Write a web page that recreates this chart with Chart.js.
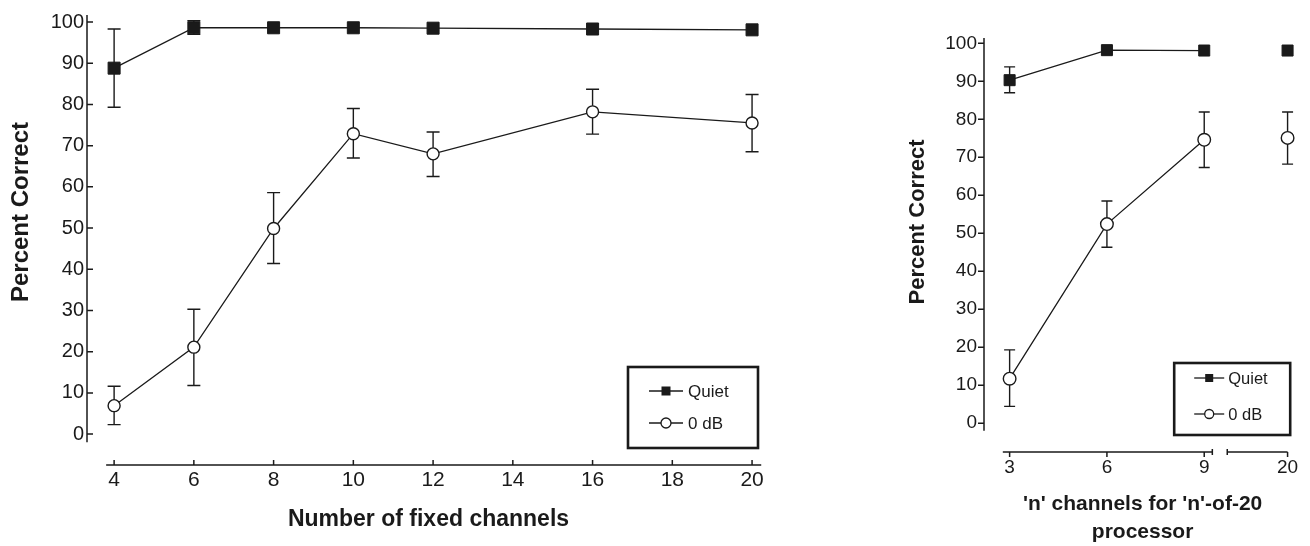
<!DOCTYPE html>
<html>
<head>
<meta charset="utf-8">
<script src="https://cdn.jsdelivr.net/npm/chart.js@4.4.0/dist/chart.umd.min.js"></script>
<style>
  body { margin: 0; background: #fff; }
  #wrapLeft { position: absolute; left: 0; top: 0; width: 780px; height: 546px; }
  #wrapRight { position: absolute; left: 880px; top: 0; width: 430px; height: 546px; }
</style>
</head>
<body>
<div id="wrapLeft"><canvas id="fixedChart"></canvas></div>
<div id="wrapRight"><canvas id="nofmChart"></canvas></div>
<script>
// left panel - fixed channels
const fixedChannels = [4, 6, 8, 10, 12, 16, 20];
const fixedQuiet = [88.8, 98.6, 98.6, 98.6, 98.5, 98.3, 98.1];
const fixedQuietLow = [79.3, 97.0, null, null, null, null, null];
const fixedQuietHigh = [98.3, 100.3, null, null, null, null, null];
const fixedNoise = [6.9, 21.1, 49.9, 72.9, 68.0, 78.2, 75.5];
const fixedNoiseLow = [2.3, 11.8, 41.4, 67.0, 62.5, 72.8, 68.5];
const fixedNoiseHigh = [11.6, 30.3, 58.6, 79.0, 73.3, 83.7, 82.4];
const fixedTicks = [4, 6, 8, 10, 12, 14, 16, 18, 20];

// right panel - 'n'-of-20
const nChannels = [3, 6, 9, 20];
const nQuiet = [90.3, 98.2, 98.1, 98.1];
const nQuietLow = [87.0, null, null, null];
const nQuietHigh = [93.8, null, null, null];
const nNoise = [11.7, 52.4, 74.6, 75.1];
const nNoiseLow = [4.4, 46.3, 67.3, 68.2];
const nNoiseHigh = [19.3, 58.5, 81.9, 81.9];
const nTicks = [3, 6, 9, 20];

const percentTicks = [0, 10, 20, 30, 40, 50, 60, 70, 80, 90, 100];

const ink = '#1a1a1a';
const fontFam = "'Liberation Sans', Arial, Helvetica, sans-serif";

// broken axis on the right panel: 20 sits just after the break
const breakPos = n => (n <= 9 ? n : n - 8.43);

const paperAxes = {
  id: 'paperAxes',
  beforeDatasetsDraw(chart, args, opts) {
    const ctx = chart.ctx, ys = chart.scales.y;
    ctx.save();
    ctx.strokeStyle = ink;
    ctx.lineWidth = 1.4;
    chart.data.datasets.forEach((ds, i) => {
      if (!ds.errLow) return;
      chart.getDatasetMeta(i).data.forEach((pt, j) => {
        if (ds.errLow[j] == null) return;
        const yl = ys.getPixelForValue(ds.errLow[j]);
        const yh = ys.getPixelForValue(ds.errHigh[j]);
        const c = opts.cap / 2;
        ctx.beginPath();
        ctx.moveTo(pt.x, yl); ctx.lineTo(pt.x, yh);
        ctx.moveTo(pt.x - c, yl); ctx.lineTo(pt.x + c, yl);
        ctx.moveTo(pt.x - c, yh); ctx.lineTo(pt.x + c, yh);
        ctx.stroke();
      });
    });
    ctx.restore();
  },
  afterDatasetsDraw(chart, args, opts) {
    const ctx = chart.ctx, xs = chart.scales.x, ys = chart.scales.y;
    const ca = chart.chartArea;
    ctx.save();
    ctx.strokeStyle = ink;
    ctx.lineWidth = 1.5;
    // y axis
    const ax = ca.left;
    ctx.beginPath();
    ctx.moveTo(ax, ys.getPixelForValue(opts.ySpan[0]));
    ctx.lineTo(ax, ys.getPixelForValue(opts.ySpan[1]));
    percentTicks.forEach(v => {
      const y = ys.getPixelForValue(v);
      ctx.moveTo(ax, y); ctx.lineTo(ax + opts.yTickDir * 6, y);
    });
    // x axis segments
    const by = ca.bottom;
    opts.xSegments.forEach(s => {
      ctx.moveTo(xs.getPixelForValue(s[0]), by);
      ctx.lineTo(xs.getPixelForValue(s[1]), by);
    });
    opts.xMarks.forEach(m => {
      const x = xs.getPixelForValue(m[0]);
      ctx.moveTo(x, by - m[1]); ctx.lineTo(x, by + m[2]);
    });
    ctx.stroke();

    // y title
    ctx.fillStyle = ink;
    ctx.font = 'bold ' + opts.yTitle.size + 'px ' + fontFam;
    ctx.textAlign = 'center';
    ctx.textBaseline = 'middle';
    ctx.save();
    ctx.translate(opts.yTitle.x, opts.yTitle.y);
    ctx.rotate(-Math.PI / 2);
    ctx.fillText(opts.yTitle.text, 0, 0);
    ctx.restore();

    // boxed legend
    const lg = opts.legend;
    const bx = ca.right - lg.right - lg.w, bt = ca.bottom - lg.bottom - lg.h;
    ctx.lineWidth = 2.6;
    ctx.strokeRect(bx, bt, lg.w, lg.h);
    ctx.font = lg.size + 'px ' + fontFam;
    ctx.textAlign = 'left';
    chart.data.datasets.forEach((ds, i) => {
      const cy = bt + lg.rows[i];
      const x0 = bx + lg.lineX, x1 = x0 + lg.lineW, cx = (x0 + x1) / 2;
      ctx.lineWidth = 1.3;
      ctx.beginPath(); ctx.moveTo(x0, cy); ctx.lineTo(x1, cy); ctx.stroke();
      if (ds.pointStyle === 'rect') {
        ctx.fillStyle = ink;
        ctx.fillRect(cx - lg.mark / 2, cy - lg.mark / 2, lg.mark, lg.mark);
      } else {
        ctx.beginPath();
        ctx.arc(cx, cy, lg.mark / 2 + 0.5, 0, Math.PI * 2);
        ctx.fillStyle = '#fff'; ctx.fill();
        ctx.lineWidth = 1.3; ctx.stroke();
      }
      ctx.fillStyle = ink;
      ctx.fillText(ds.label, bx + lg.textX, cy + 1);
    });
    ctx.restore();
  }
};

function quietSet(xs, ys, lo, hi, r) {
  return {
    label: 'Quiet',
    data: xs.map((x, i) => ({ x: x, y: ys[i] })),
    errLow: lo, errHigh: hi,
    borderColor: ink, borderWidth: 1.3,
    pointStyle: 'rect', pointRadius: r,
    pointBackgroundColor: ink, pointBorderColor: ink, pointBorderWidth: 1
  };
}
function noiseSet(xs, ys, lo, hi, r) {
  return {
    label: '0 dB',
    data: xs.map((x, i) => ({ x: x, y: ys[i] })),
    errLow: lo, errHigh: hi,
    borderColor: ink, borderWidth: 1.3,
    pointStyle: 'circle', pointRadius: r,
    pointBackgroundColor: '#fff', pointBorderColor: ink, pointBorderWidth: 1.4
  };
}

// ---- left chart ----
new Chart(document.getElementById('fixedChart'), {
  type: 'line',
  data: {
    datasets: [
      quietSet(fixedChannels, fixedQuiet, fixedQuietLow, fixedQuietHigh, 8.5),
      noiseSet(fixedChannels, fixedNoise, fixedNoiseLow, fixedNoiseHigh, 6)
    ]
  },
  options: {
    responsive: true,
    maintainAspectRatio: false,
    animation: false,
    layout: { padding: { top: 15, right: 10, left: 0, bottom: 0 } },
    plugins: {
      legend: { display: false },
      tooltip: { enabled: false },
      paperAxes: {
        cap: 13,
        ySpan: [-2, 101.7],
        yTickDir: 1,
        xSegments: [[3.8, 20.23]],
        xMarks: fixedTicks.map(v => [v, 5, 0]),
        yTitle: { text: 'Percent Correct', x: 21, y: 212, size: 24 },
        legend: { right: 12, bottom: 17, w: 130, h: 81, rows: [24, 56], lineX: 21, lineW: 34, textX: 60, size: 17, mark: 9 }
      }
    },
    scales: {
      x: {
        type: 'linear', min: 3.32, max: 20.45,
        border: { display: false },
        grid: { display: false, drawTicks: false },
        afterBuildTicks: s => { s.ticks = fixedTicks.map(v => ({ value: v })); },
        afterFit: s => { s.height = 81; },
        ticks: { color: ink, font: { family: fontFam, size: 21 }, padding: 3, maxRotation: 0 },
        title: { display: true, text: 'Number of fixed channels', color: ink, font: { family: fontFam, size: 23, weight: 'bold' }, padding: { top: 4, bottom: 13 } }
      },
      y: {
        min: -7.5, max: 101.7,
        border: { display: false },
        grid: { display: false, drawTicks: false },
        afterBuildTicks: s => { s.ticks = percentTicks.map(v => ({ value: v })); },
        afterFit: s => { s.width = 87; },
        ticks: { color: ink, font: { family: fontFam, size: 20 }, padding: 3 }
      }
    }
  },
  plugins: [paperAxes]
});

// ---- right chart ----
new Chart(document.getElementById('nofmChart'), {
  type: 'line',
  data: {
    datasets: [
      quietSet(nChannels.map(breakPos), nQuiet, nQuietLow, nQuietHigh, 7.8),
      noiseSet(nChannels.map(breakPos), nNoise, nNoiseLow, nNoiseHigh, 6.3)
    ].map(ds => Object.assign(ds, {
      segment: { borderColor: c => (c.p1DataIndex === 3 ? 'rgba(0,0,0,0)' : undefined) }
    }))
  },
  options: {
    responsive: true,
    maintainAspectRatio: false,
    animation: false,
    layout: { padding: { top: 38, right: 5, left: 0, bottom: 0 } },
    plugins: {
      legend: { display: false },
      tooltip: { enabled: false },
      paperAxes: {
        cap: 11,
        ySpan: [-2, 101.4],
        yTickDir: -1,
        xSegments: [[2.79, 9.25], [9.71, breakPos(20)]],
        xMarks: nTicks.map(v => [breakPos(v), 0, 5]).concat([[9.25, 3, 3], [9.71, 3, 3]]),
        yTitle: { text: 'Percent Correct', x: 38, y: 222, size: 22 },
        legend: { right: 11, bottom: 17, w: 116, h: 72, rows: [15, 51], lineX: 20, lineW: 30, textX: 54, size: 16.5, mark: 8 }
      }
    },
    scales: {
      x: {
        type: 'linear', min: 2.21, max: 11.99,
        border: { display: false },
        grid: { display: false, drawTicks: false },
        afterBuildTicks: s => { s.ticks = nTicks.map(v => ({ value: breakPos(v) })); },
        afterFit: s => { s.height = 94; },
        ticks: { color: ink, font: { family: fontFam, size: 19 }, padding: 4, maxRotation: 0,
          callback: (v, i) => nTicks[i] },
        title: { display: true, text: ["'n' channels for 'n'-of-20", 'processor'], color: ink,
          font: { family: fontFam, size: 21, weight: 'bold', lineHeight: 1.33 }, padding: { top: 4, bottom: 0 } }
      },
      y: {
        min: -7.6, max: 101.4,
        border: { display: false },
        grid: { display: false, drawTicks: false },
        afterBuildTicks: s => { s.ticks = percentTicks.map(v => ({ value: v })); },
        afterFit: s => { s.width = 104; },
        ticks: { color: ink, font: { family: fontFam, size: 19 }, padding: 7 }
      }
    }
  },
  plugins: [paperAxes]
});
</script>
</body>
</html>
